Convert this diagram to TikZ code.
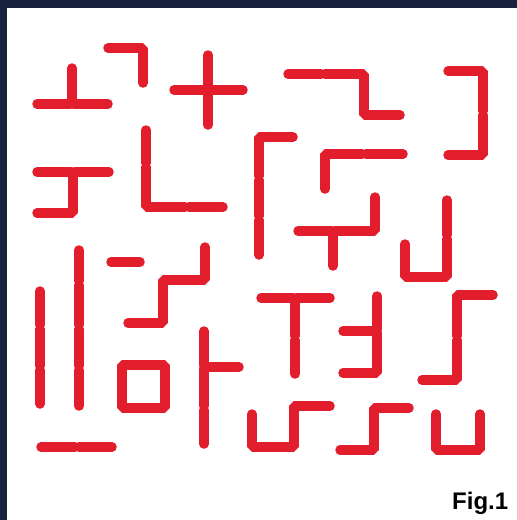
\documentclass[tikz,border=0pt]{standalone}
\usepackage{fontspec}
\newfontfamily\figfont{Liberation Sans}
\definecolor{stickred}{RGB}{226,30,44}
\definecolor{frameblue}{RGB}{24,34,62}

\begin{document}
\begin{tikzpicture}[x=1pt,y=-1pt,
    stick/.style={draw=stickred,line width=9.5pt,line cap=round,line join=bevel},
    tojoint/.style={shorten >=2pt},
    fromjoint/.style={shorten <=2pt}]
    % the frame
    \fill[frameblue] (0,0) rectangle (517,520);
    \fill[white] (7,8) rectangle (517,520);
    % top row
    \draw[stick,tojoint] (37,104) -- (72,104);
    \draw[stick,fromjoint] (72,104) -- (108,104);
    \draw[stick] (72,68) -- (72,104);
    \draw[stick] (108,48) -- (143,48) -- (143,83);
    \draw[stick] (174,90) -- (243,90);
    \draw[stick] (208,55) -- (208,125);
    \draw[stick,tojoint] (288,74) -- (323,74);
    \draw[stick,fromjoint] (323,74) -- (364,74) -- (364,115) -- (400,115);
    \draw[stick,tojoint] (448,71) -- (483,71) -- (483,113);
    \draw[stick,fromjoint] (483,113) -- (483,155) -- (448,155);
    % second row
    \draw[stick,tojoint] (37,172) -- (73,172);
    \draw[stick,fromjoint] (73,172) -- (109,172);
    \draw[stick] (73,172) -- (73,213) -- (37,213);
    \draw[stick,tojoint] (146,130) -- (146,165);
    \draw[stick,fromjoint,tojoint] (146,165) -- (146,207) -- (187,207);
    \draw[stick,fromjoint] (187,207) -- (223,207);
    \draw[stick,tojoint] (293,137) -- (259,137) -- (259,178);
    \draw[stick,fromjoint,tojoint] (259,178) -- (259,218);
    \draw[stick,fromjoint] (259,218) -- (259,255);
    \draw[stick,tojoint] (325,189) -- (325,154) -- (364,154);
    \draw[stick,fromjoint] (364,154) -- (403,154);
    \draw[stick,tojoint] (298,231) -- (333,231);
    \draw[stick,fromjoint] (333,231) -- (375,231) -- (375,197);
    \draw[stick] (333,231) -- (333,266);
    \draw[stick,tojoint] (405,244) -- (405,277) -- (447,277) -- (447,237);
    \draw[stick,fromjoint] (447,237) -- (447,200);
    % third row, left
    \draw[stick,tojoint] (40,291) -- (40,327);
    \draw[stick,fromjoint,tojoint] (40,327) -- (40,368);
    \draw[stick,fromjoint] (40,368) -- (40,404);
    \draw[stick,tojoint] (79,250) -- (79,283);
    \draw[stick,fromjoint,tojoint] (79,283) -- (79,327);
    \draw[stick,fromjoint,tojoint] (79,327) -- (79,368);
    \draw[stick,fromjoint] (79,368) -- (79,406);
    \draw[stick] (111,262) -- (140,262);
    \draw[stick] (205,247) -- (205,280) -- (163,280) -- (163,323) -- (128,323);
    \draw[stick] (122,365) -- (165,365) -- (165,408) -- (122,408) -- cycle;
    \draw[stick,tojoint] (204,331) -- (204,367);
    \draw[stick,fromjoint,tojoint] (204,367) -- (204,408);
    \draw[stick,fromjoint] (204,408) -- (204,444);
    \draw[stick] (204,367) -- (239,367);
    \draw[stick,tojoint] (41,447) -- (77,447);
    \draw[stick,fromjoint] (77,447) -- (112,447);
    % third row, right
    \draw[stick,tojoint] (261,298) -- (295,298);
    \draw[stick,fromjoint] (295,298) -- (330,298);
    \draw[stick,tojoint] (295,298) -- (295,338);
    \draw[stick,fromjoint] (295,338) -- (295,374);
    \draw[stick,tojoint] (377,296) -- (377,331);
    \draw[stick,fromjoint] (377,331) -- (377,373) -- (343,373);
    \draw[stick] (377,331) -- (343,331);
    \draw[stick,tojoint] (493,295) -- (457,295) -- (457,338);
    \draw[stick,fromjoint] (457,338) -- (457,380) -- (422,380);
    % bottom row
    \draw[stick] (252,414) -- (252,447) -- (294,447) -- (294,406) -- (330,406);
    \draw[stick] (340,450) -- (374,450) -- (374,408) -- (409,408);
    \draw[stick] (436,414) -- (436,450) -- (480,450) -- (480,414);
    % caption
    \node[font=\figfont\bfseries\fontsize{24}{24}\selectfont,inner sep=0pt,anchor=base west]
      (caption) at (452,509) {Fig.1};
\end{tikzpicture}
\end{document}
